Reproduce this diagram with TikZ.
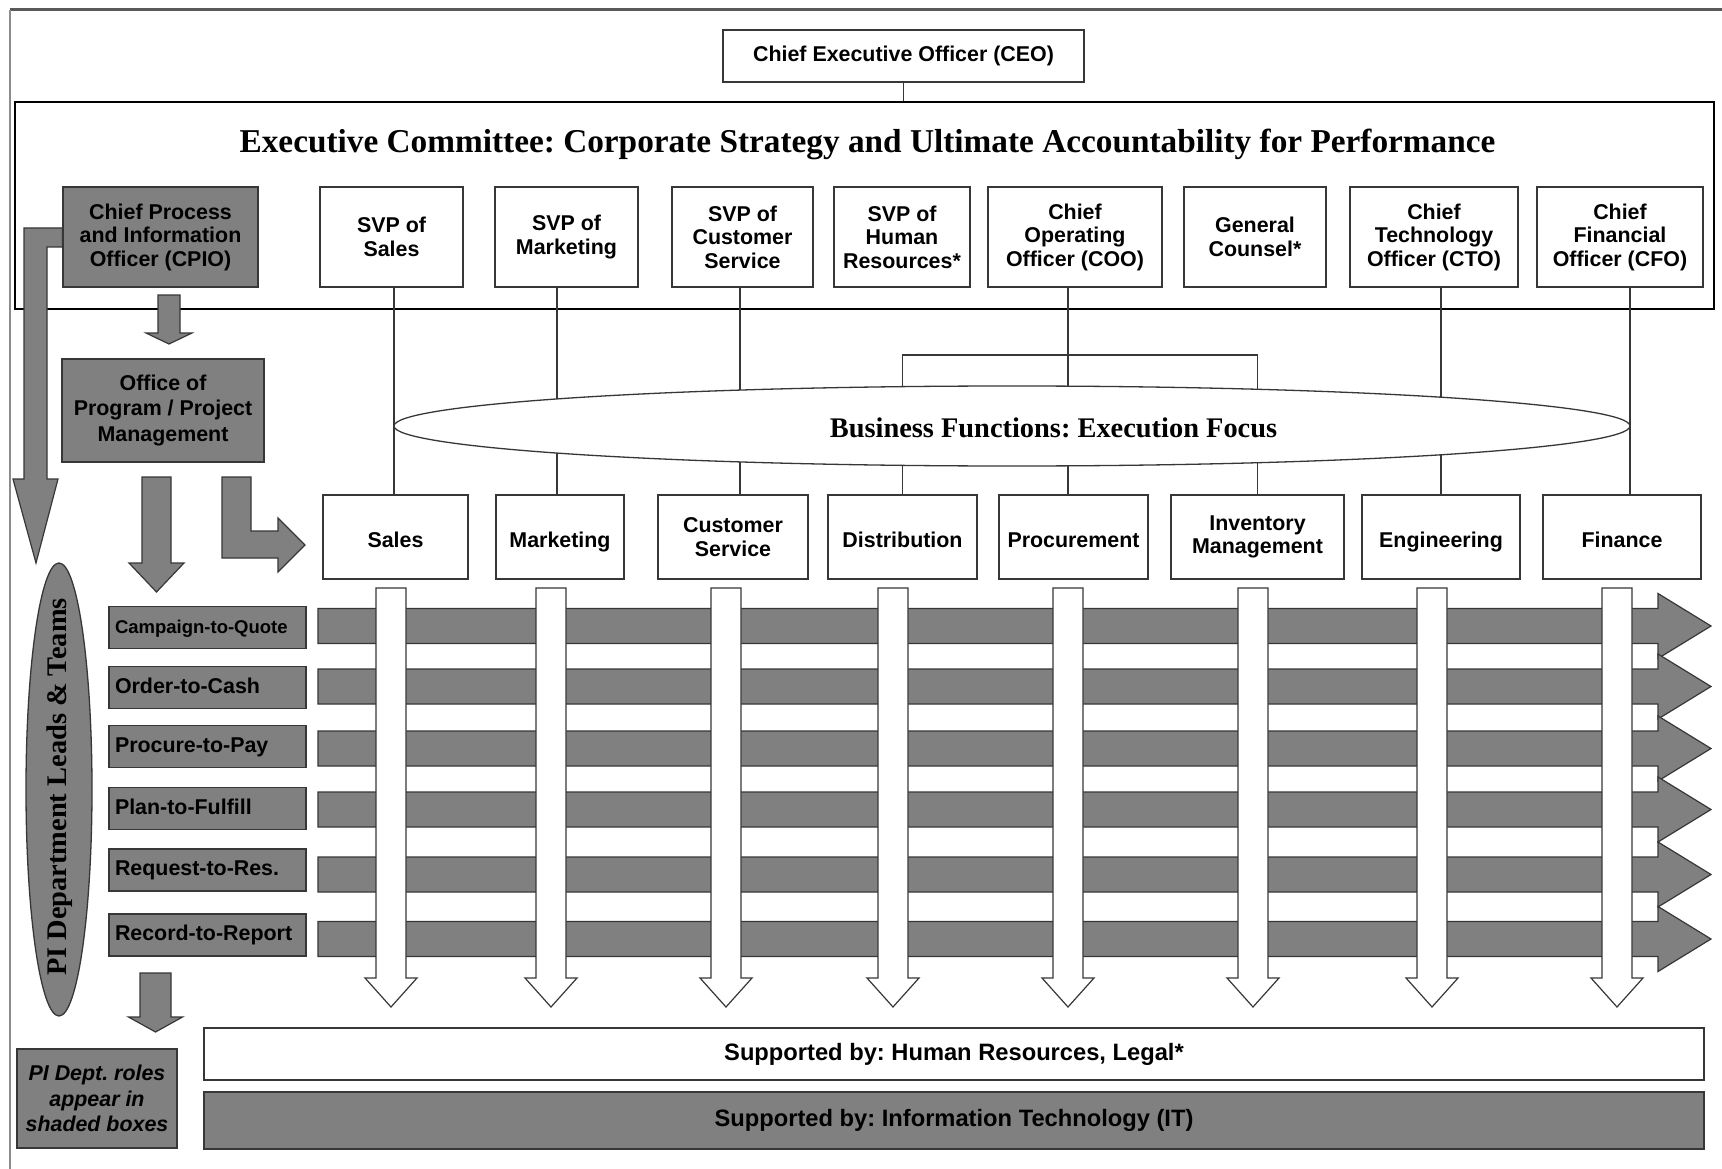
\documentclass[tikz,border=0pt]{standalone}
\usepackage{fontspec}
\setmainfont{Liberation Serif}
\setsansfont{Liberation Sans}
\usetikzlibrary{shapes.geometric}
\definecolor{pig}{RGB}{128,128,128}
\definecolor{edge}{RGB}{55,55,55}
% block arrow pointing down: style, cx, top, headbase, tip, shaft half, head half
\newcommand{\bdown}[7]{%
  \filldraw[#1] (#2-#6,#3) -- (#2+#6,#3) -- (#2+#6,#4) -- (#2+#7,#4) -- (#2,#5) -- (#2-#7,#4) -- (#2-#6,#4) -- cycle;}
% block arrow pointing right: style, cy, left, headbase, tip, shaft half, head half
\newcommand{\bright}[7]{%
  \filldraw[#1] (#3,#2-#6) -- (#4,#2-#6) -- (#4,#2-#7) -- (#5,#2) -- (#4,#2+#7) -- (#4,#2+#6) -- (#3,#2+#6) -- cycle;}
\tikzset{
  boxbase/.style={font=\sffamily\bfseries\fontsize{21.4}{23.5}\selectfont, align=center, inner sep=0pt, line width=1.3pt, draw=edge},
  wbox/.style={boxbase, fill=white},
  gbox/.style={boxbase, fill=pig},
  oneline/.style={text height=21pt, text depth=0pt},
  procbox/.style={gbox, minimum width=197pt, minimum height=42pt, text width=185pt, align=left, text height=15.5pt, text depth=4.5pt},
  conn/.style={line width=1.3pt, draw=edge},
  garrow/.style={fill=pig, draw=edge, line width=1.2pt, line join=miter},
  warrow/.style={fill=white, draw=edge, line width=1.2pt, line join=miter},
  serifbig/.style={font=\rmfamily\bfseries\fontsize{28.4}{30}\selectfont, inner sep=0pt},
}
\begin{document}
\frenchspacing
\begin{tikzpicture}[x=1pt,y=-1pt]
\useasboundingbox (0,0) rectangle (1722,1169);
\fill[white] (0,0) rectangle (1722,1169);
% outer frame
\draw[line width=3pt, draw=black!65] (9.5,10) -- (1722,10);
\draw[line width=2pt, draw=black!45] (9.5,10) -- (9.5,1169);

% executive committee
\node[draw=black, line width=2.6pt, minimum width=1699pt, minimum height=207pt, inner sep=0pt] (exec) at (864.5,205.5) {};
\node[font=\rmfamily\bfseries\fontsize{33.3}{36}\selectfont, inner sep=0pt, anchor=base] (title) at (867.5,153)
  {Executive Committee: Corporate Strategy and Ultimate Accountability for Performance};

% CEO
\node[wbox, minimum width=361pt, minimum height=52pt] (ceo) at (903.5,56) {Chief Executive Officer (CEO)};
\draw[conn] (ceo.south) -- (ceo.south |- exec.north);

% executive row
\node[gbox, minimum width=195pt, minimum height=100pt] (cpio) at (160.5,237) {Chief Process\\and Information\\Officer (CPIO)};
\node[wbox, minimum width=143pt, minimum height=100pt] (svps) at (391.5,237) {SVP of\\Sales};
\node[wbox, minimum width=143pt, minimum height=100pt] (svpm) at (566.5,237) {SVP of\\Marketing};
\node[wbox, minimum width=141pt, minimum height=100pt] (svpc) at (742.5,237) {SVP of\\Customer\\Service};
\node[wbox, minimum width=136pt, minimum height=100pt] (svph) at (902,237) {SVP of\\Human\\Resources*};
\node[wbox, minimum width=174pt, minimum height=100pt] (coo) at (1075,237) {Chief\\Operating\\Officer (COO)};
\node[wbox, minimum width=142pt, minimum height=100pt] (gc) at (1255,237) {General\\Counsel*};
\node[wbox, minimum width=168pt, minimum height=100pt] (cto) at (1434,237) {Chief\\Technology\\Officer (CTO)};
\node[wbox, minimum width=166pt, minimum height=100pt] (cfo) at (1620,237) {Chief\\Financial\\Officer (CFO)};

% business function boxes
\node[wbox, oneline, minimum width=145pt, minimum height=84pt] (fsales) at (395.5,537) {Sales};
\node[wbox, oneline, minimum width=128pt, minimum height=84pt] (fmkt) at (560,537) {Marketing};
\node[wbox, minimum width=150pt, minimum height=84pt] (fcs) at (733,537) {Customer\\Service};
\node[wbox, oneline, minimum width=149pt, minimum height=84pt] (fdist) at (902.5,537) {Distribution};
\node[wbox, oneline, minimum width=149pt, minimum height=84pt] (fproc) at (1073.5,537) {Procurement};
\node[wbox, minimum width=173pt, minimum height=84pt] (finv) at (1257.5,537) {Inventory\\Management};
\node[wbox, oneline, minimum width=158pt, minimum height=84pt] (feng) at (1441,537) {Engineering};
\node[wbox, oneline, minimum width=158pt, minimum height=84pt] (ffin) at (1622,537) {Finance};

% connectors
\draw[conn] ([xshift=2.5pt]svps.south) -- ([xshift=2.5pt]svps.south |- fsales.north);
\draw[conn] ([xshift=-9.5pt]svpm.south) -- ([xshift=-9.5pt]svpm.south |- fmkt.north);
\draw[conn] ([xshift=-2.5pt]svpc.south) -- ([xshift=-2.5pt]svpc.south |- fcs.north);
\draw[conn] ([xshift=-7pt]coo.south) -- ([xshift=-7pt]coo.south |- fproc.north);
\coordinate (brk) at (1068,355);
\draw[conn] (fdist.north) |- (brk) -| (finv.north);
\draw[conn] (feng.north |- cto.south) -- (feng.north);
\draw[conn] ([xshift=8pt]ffin.north |- cfo.south) -- ([xshift=8pt]ffin.north);

% business functions ellipse
\node[ellipse, draw=edge, line width=1.3pt, fill=white, minimum width=1236pt, minimum height=80pt, inner sep=0pt] (bf) at (1012,426) {};
\node[serifbig, anchor=base] (bft) at (1053.5,437) {Business Functions: Execution Focus};

% left column arrows
\bdown{garrow}{169}{295}{333}{344}{11}{23}
\filldraw[garrow] (cpio.west |- 0,228) -- (24,228) -- (24,479) -- (13,479) -- (36,563) -- (58,479) -- (47,479) -- (47,247) -- (cpio.west |- 0,247) -- cycle;
\node[gbox, minimum width=202pt, minimum height=103pt, font=\sffamily\bfseries\fontsize{21.4}{25.5}\selectfont] (ppm) at (163,410.5) {Office of\\Program / Project\\Management};
\bdown{garrow}{156.5}{477}{563}{592}{14.5}{27.5}
\filldraw[garrow] (222,477) -- (251,477) -- (251,531) -- (278,531) -- (278,518) -- (305,545) -- (278,572) -- (278,558) -- (222,558) -- cycle;

% process arrows
\foreach \cy in {626,686.5,748.5,809.5,874.5,939}{
  \bright{garrow}{\cy}{318}{1658}{1711}{17.5}{32.5}
}
\foreach \cx in {391,551,726,893,1068,1253,1432,1617}{
  \bdown{warrow}{\cx}{588}{978}{1007}{15}{26}
}

% PI ellipse
\node[ellipse, fill=pig, draw=edge, line width=1.3pt, rotate=90, minimum width=453pt, minimum height=66pt, inner sep=0pt] (pie) at (59,789.5) {};
\node[serifbig, rotate=90] (piet) at (60,787) {PI Department Leads \& Teams};

% process boxes
\node[procbox, font=\sffamily\bfseries\fontsize{18.5}{20}\selectfont] (p1) at (207.5,627.5) {Campaign-to-Quote};
\node[procbox] (p2) at (207.5,687.5) {Order-to-Cash};
\node[procbox] (p3) at (207.5,746.5) {Procure-to-Pay};
\node[procbox] (p4) at (207.5,808.5) {Plan-to-Fulfill};
\node[procbox] (p5) at (207.5,870) {Request-to-Res.};
\node[procbox] (p6) at (207.5,935) {Record-to-Report};

\bdown{garrow}{155.5}{973}{1017}{1032}{15.5}{27}

% bottom
\node[gbox, minimum width=160pt, minimum height=99pt, font=\sffamily\bfseries\itshape\fontsize{21.4}{25.5}\selectfont] (roles) at (97,1098.5) {PI Dept. roles\\appear in\\shaded boxes};
\node[wbox, minimum width=1500pt, minimum height=52pt, font=\sffamily\bfseries\fontsize{23.7}{26}\selectfont] (hr) at (954,1054) {Supported by: Human Resources, Legal*};
\node[gbox, minimum width=1500pt, minimum height=57pt, font=\sffamily\bfseries\fontsize{23.7}{26}\selectfont] (it) at (954,1120.5) {Supported by: Information Technology (IT)};
\end{tikzpicture}
\end{document}
